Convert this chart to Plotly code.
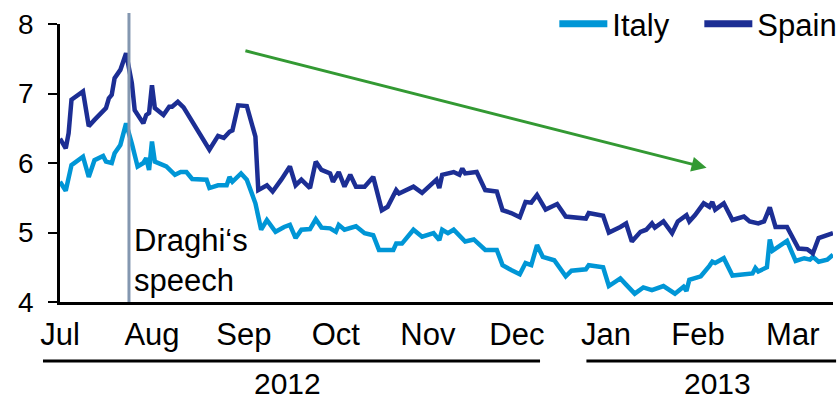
import plotly.graph_objects as go

# 10-year government bond yields, %
spain_dates = [
    "2012-07-02", "2012-07-04", "2012-07-05", "2012-07-06", "2012-07-10", "2012-07-12",
    "2012-07-14", "2012-07-17", "2012-07-18", "2012-07-19", "2012-07-20", "2012-07-21",
    "2012-07-23", "2012-07-25", "2012-07-27", "2012-07-28", "2012-07-31", "2012-08-01",
    "2012-08-02", "2012-08-03", "2012-08-04", "2012-08-07", "2012-08-09", "2012-08-10",
    "2012-08-12", "2012-08-14", "2012-08-19", "2012-08-23", "2012-08-26", "2012-08-28",
    "2012-08-30", "2012-08-31", "2012-09-02", "2012-09-05", "2012-09-08", "2012-09-09",
    "2012-09-12", "2012-09-14", "2012-09-17", "2012-09-20", "2012-09-22", "2012-09-24",
    "2012-09-27", "2012-09-29", "2012-10-01", "2012-10-04", "2012-10-05", "2012-10-07",
    "2012-10-09", "2012-10-11", "2012-10-13", "2012-10-16", "2012-10-19", "2012-10-22",
    "2012-10-24", "2012-10-27", "2012-10-28", "2012-10-31", "2012-11-02", "2012-11-05",
    "2012-11-08", "2012-11-10", "2012-11-11", "2012-11-12", "2012-11-16", "2012-11-18",
    "2012-11-19", "2012-11-20", "2012-11-24", "2012-11-27", "2012-12-01", "2012-12-03",
    "2012-12-06", "2012-12-09", "2012-12-11", "2012-12-13", "2012-12-15", "2012-12-18",
    "2012-12-22", "2012-12-25", "2013-01-01", "2013-01-02", "2013-01-07", "2013-01-09",
    "2013-01-13", "2013-01-15", "2013-01-17", "2013-01-20", "2013-01-22", "2013-01-24",
    "2013-01-25", "2013-01-28", "2013-01-31", "2013-02-02", "2013-02-05", "2013-02-06",
    "2013-02-08", "2013-02-11", "2013-02-13", "2013-02-14", "2013-02-15", "2013-02-18",
    "2013-02-21", "2013-02-25", "2013-02-27", "2013-03-02", "2013-03-04", "2013-03-06",
    "2013-03-08", "2013-03-12", "2013-03-16", "2013-03-19", "2013-03-21", "2013-03-23",
    "2013-03-28",
]
spain_yield = [
    6.35, 6.21, 6.43, 6.91, 7.03, 6.53,
    6.62, 6.76, 6.79, 6.93, 6.98, 7.22,
    7.34, 7.58, 7.15, 6.76, 6.57, 6.69,
    6.72, 7.12, 6.79, 6.69, 6.81, 6.81,
    6.88, 6.80, 6.47, 6.19, 6.39, 6.36,
    6.45, 6.47, 6.83, 6.82, 6.38, 5.61,
    5.68, 5.59, 5.76, 5.95, 5.68, 5.76,
    5.64, 6.02, 5.90, 5.85, 5.73, 5.87,
    5.66, 5.83, 5.66, 5.66, 5.80, 5.32,
    5.37, 5.61, 5.56, 5.61, 5.66, 5.57,
    5.68, 5.76, 5.64, 5.83, 5.87, 5.83,
    5.92, 5.85, 5.87, 5.61, 5.59, 5.32,
    5.28, 5.22, 5.44, 5.43, 5.54, 5.33,
    5.41, 5.23, 5.20, 5.28, 5.24, 5.00,
    5.08, 5.13, 4.87, 5.01, 5.04, 5.13,
    5.07, 5.16, 4.99, 5.16, 5.25, 5.16,
    5.25, 5.42, 5.37, 5.44, 5.33, 5.42,
    5.18, 5.23, 5.16, 5.13, 5.16, 5.36,
    5.08, 5.08, 4.77, 4.76, 4.70, 4.92,
    4.99,
]

italy_dates = [
    "2012-07-02", "2012-07-04", "2012-07-06", "2012-07-08", "2012-07-10", "2012-07-12",
    "2012-07-14", "2012-07-17", "2012-07-18", "2012-07-20", "2012-07-21", "2012-07-23",
    "2012-07-25", "2012-07-27", "2012-07-29", "2012-07-31", "2012-08-01", "2012-08-02",
    "2012-08-03", "2012-08-04", "2012-08-08", "2012-08-11", "2012-08-13", "2012-08-15",
    "2012-08-17", "2012-08-22", "2012-08-23", "2012-08-26", "2012-08-29", "2012-08-30",
    "2012-08-31", "2012-09-03", "2012-09-05", "2012-09-08", "2012-09-10", "2012-09-12",
    "2012-09-15", "2012-09-18", "2012-09-20", "2012-09-22", "2012-09-24", "2012-09-27",
    "2012-09-29", "2012-10-01", "2012-10-04", "2012-10-06", "2012-10-07", "2012-10-09",
    "2012-10-13", "2012-10-16", "2012-10-19", "2012-10-21", "2012-10-26", "2012-10-27",
    "2012-10-29", "2012-11-02", "2012-11-05", "2012-11-09", "2012-11-11", "2012-11-12",
    "2012-11-14", "2012-11-16", "2012-11-20", "2012-11-23", "2012-11-27", "2012-12-01",
    "2012-12-03", "2012-12-06", "2012-12-09", "2012-12-11", "2012-12-13", "2012-12-15",
    "2012-12-17", "2012-12-21", "2012-12-25", "2012-12-27", "2013-01-01", "2013-01-02",
    "2013-01-07", "2013-01-09", "2013-01-13", "2013-01-15", "2013-01-18", "2013-01-21",
    "2013-01-24", "2013-01-28", "2013-02-01", "2013-02-04", "2013-02-05", "2013-02-06",
    "2013-02-10", "2013-02-13", "2013-02-14", "2013-02-15", "2013-02-18", "2013-02-21",
    "2013-02-26", "2013-02-28", "2013-03-01", "2013-03-02", "2013-03-05", "2013-03-06",
    "2013-03-07", "2013-03-12", "2013-03-15", "2013-03-18", "2013-03-20", "2013-03-21",
    "2013-03-23", "2013-03-26", "2013-03-28",
]
italy_yield = [
    5.73, 5.60, 5.97, 6.04, 6.09, 5.80,
    6.04, 6.10, 6.02, 6.00, 6.14, 6.26,
    6.57, 6.28, 5.95, 6.00, 6.07, 5.90,
    6.31, 6.02, 5.95, 5.83, 5.87, 5.87,
    5.77, 5.76, 5.64, 5.68, 5.68, 5.80,
    5.73, 5.85, 5.76, 5.42, 5.04, 5.18,
    5.01, 5.08, 5.11, 4.92, 5.04, 5.05,
    5.19, 5.07, 5.06, 5.01, 5.11, 5.04,
    5.09, 4.99, 4.96, 4.75, 4.75, 4.84,
    4.84, 5.04, 4.94, 4.99, 4.89, 5.04,
    4.99, 5.04, 4.87, 4.90, 4.75, 4.75,
    4.53, 4.46, 4.40, 4.56, 4.53, 4.82,
    4.65, 4.60, 4.37, 4.45, 4.47, 4.53,
    4.50, 4.23, 4.34, 4.25, 4.12, 4.21,
    4.17, 4.23, 4.12, 4.22, 4.16, 4.32,
    4.37, 4.52, 4.58, 4.56, 4.63, 4.38,
    4.39, 4.41, 4.49, 4.44, 4.50, 4.90,
    4.74, 4.88, 4.59, 4.63, 4.61, 4.65,
    4.58, 4.61, 4.68,
]

month_ticks = ["2012-07-02", "2012-08-03", "2012-09-04", "2012-10-06", "2012-11-07",
               "2012-12-08", "2013-01-08", "2013-02-09", "2013-03-14"]
month_labels = ["Jul", "Aug", "Sep", "Oct", "Nov", "Dec", "Jan", "Feb", "Mar"]
years = ["2012", "2013"]

speech_date = "2012-07-26"
trend_start = ("2012-09-04", 7.62)
trend_end = ("2013-02-12", 5.93)

ITALY = "#0096D6"
SPAIN = "#1C2E94"
FONT = "Arial, Liberation Sans, sans-serif"

fig = go.Figure()
fig.add_trace(go.Scatter(x=italy_dates, y=italy_yield, mode="lines", name="Italy",
                         line=dict(color=ITALY, width=4.5), showlegend=False))
fig.add_trace(go.Scatter(x=spain_dates, y=spain_yield, mode="lines", name="Spain",
                         line=dict(color=SPAIN, width=4.5), showlegend=False))
# legend entries with thicker swatches
for name, col in [("Italy", ITALY), ("Spain", SPAIN)]:
    fig.add_trace(go.Scatter(x=[None], y=[None], mode="lines", name=name,
                             line=dict(color=col, width=7)))

# Draghi's speech marker
fig.add_shape(type="line", xref="x", yref="paper", x0=speech_date, x1=speech_date,
              y0=0, y1=1.04, line=dict(color="#8497B0", width=3), layer="above")
fig.add_annotation(x=speech_date, y=4.6, xref="x", yref="y", text="Draghi‘s<br>speech",
                   showarrow=False, xanchor="left", yanchor="middle", align="left",
                   xshift=3, font=dict(size=31, color="black", family=FONT))

# downward trend arrow
fig.add_annotation(x=trend_end[0], y=trend_end[1], ax=trend_start[0], ay=trend_start[1],
                   xref="x", yref="y", axref="x", ayref="y", text="", showarrow=True,
                   arrowhead=2, arrowsize=1, arrowwidth=3, arrowcolor="#339933")

# year brackets under the month labels
for x0, x1, xc, label in [(-0.022, 0.621, 0.294, years[0]), (0.681, 1.004, 0.850, years[1])]:
    fig.add_shape(type="line", xref="paper", yref="paper", x0=x0, x1=x1, y0=-0.212, y1=-0.212,
                  line=dict(color="black", width=3))
    fig.add_annotation(x=xc, y=-0.293, xref="paper", yref="paper", text=label, showarrow=False,
                       xanchor="center", yanchor="middle", borderpad=0,
                       font=dict(size=30, color="black", family=FONT))

fig.update_layout(
    width=837, height=401,
    margin=dict(l=60, r=4, t=24, b=99, autoexpand=False),
    paper_bgcolor="white", plot_bgcolor="white",
    font=dict(family=FONT, color="black"),
    legend=dict(orientation="h", x=0.6395, xanchor="left", y=1.0, yanchor="middle",
                font=dict(size=31, color="black", family=FONT), bgcolor="rgba(0,0,0,0)",
                itemwidth=48, entrywidth=82, entrywidthmode="pixels", tracegroupgap=0),
)
fig.update_xaxes(range=["2012-07-02", "2013-03-28"], tickvals=month_ticks, ticktext=month_labels,
                 ticks="", showgrid=False, zeroline=False, showline=True, linecolor="black",
                 linewidth=3, tickfont=dict(size=31, color="black", family=FONT),
                 ticklabelstandoff=3)
fig.update_yaxes(range=[4, 8], tickvals=[4, 5, 6, 7, 8], ticks="outside", ticklen=9, tickwidth=2,
                 tickcolor="black", showgrid=False, zeroline=False, showline=True,
                 linecolor="black", linewidth=2.5, tickfont=dict(size=28, color="black", family=FONT),
                 ticklabelstandoff=9)

fig.write_html("out.html")
